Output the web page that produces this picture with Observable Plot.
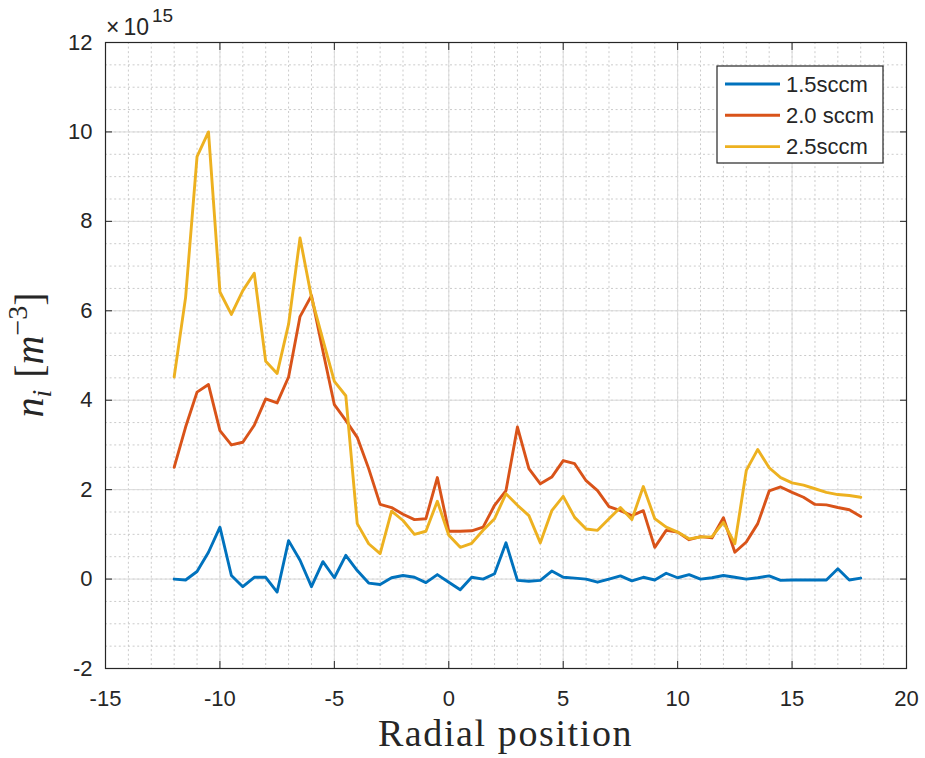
<!DOCTYPE html>
<html>
<head>
<meta charset="utf-8">
<script src="https://cdn.jsdelivr.net/npm/d3@7"></script>
<script src="https://cdn.jsdelivr.net/npm/@observablehq/plot@0.6"></script>
<style>
  body { margin: 0; background: #fff; }
  #chart { width: 925px; height: 758px; }
</style>
</head>
<body>
<div id="chart"></div>
<script>
// Radial positions of the probe (same for all three flow rates)
const positions = [
  -12, -11.5, -11, -10.5, -10, -9.5, -9, -8.5, -8, -7.5, -7, -6.5, -6, -5.5, -5, -4.5,
  -4, -3.5, -3, -2.5, -2, -1.5, -1, -0.5, 0, 0.5, 1, 1.5, 2, 2.5, 3, 3.5,
  4, 4.5, 5, 5.5, 6, 6.5, 7, 7.5, 8, 8.5, 9, 9.5, 10, 10.5, 11, 11.5,
  12, 12.5, 13, 13.5, 14, 14.5, 15, 15.5, 16, 16.5, 17, 17.5, 18
];

// Ion density n_i, in units of 1e15 m^-3
const flow15 = [
  0.00, -0.02, 0.17, 0.60, 1.16, 0.08, -0.17, 0.04, 0.04, -0.29, 0.86, 0.42, -0.17, 0.39, 0.03, 0.53,
  0.19, -0.09, -0.12, 0.03, 0.08, 0.04, -0.08, 0.10, -0.07, -0.24, 0.04, 0.00, 0.12, 0.81, -0.03, -0.05,
  -0.03, 0.18, 0.04, 0.02, 0.00, -0.07, 0.00, 0.07, -0.04, 0.04, -0.02, 0.13, 0.03, 0.10, 0.00, 0.03,
  0.08, 0.04, 0.00, 0.03, 0.07, -0.03, -0.02, -0.02, -0.02, -0.02, 0.23, -0.02, 0.02
];
const flow20 = [
  2.50, 3.40, 4.18, 4.35, 3.32, 3.00, 3.06, 3.44, 4.03, 3.94, 4.52, 5.87, 6.34, 5.10, 3.90, 3.55,
  3.17, 2.47, 1.67, 1.60, 1.45, 1.33, 1.35, 2.27, 1.07, 1.07, 1.08, 1.16, 1.65, 1.98, 3.40, 2.47,
  2.13, 2.28, 2.65, 2.58, 2.20, 1.98, 1.62, 1.53, 1.42, 1.53, 0.71, 1.09, 1.05, 0.88, 0.95, 0.92,
  1.37, 0.60, 0.83, 1.24, 1.97, 2.06, 1.94, 1.83, 1.67, 1.66, 1.60, 1.55, 1.40
];
const flow25 = [
  4.52, 6.30, 9.45, 10.00, 6.42, 5.92, 6.45, 6.84, 4.87, 4.60, 5.70, 7.63, 6.30, 5.35, 4.42, 4.10,
  1.24, 0.79, 0.57, 1.52, 1.31, 1.00, 1.07, 1.74, 0.98, 0.71, 0.80, 1.09, 1.35, 1.91, 1.65, 1.42,
  0.81, 1.53, 1.85, 1.38, 1.12, 1.09, 1.35, 1.60, 1.33, 2.07, 1.35, 1.16, 1.05, 0.90, 0.94, 0.95,
  1.27, 0.79, 2.43, 2.90, 2.49, 2.27, 2.15, 2.10, 2.02, 1.94, 1.89, 1.87, 1.83
];

const seriesNames = ["1.5sccm", "2.0 sccm", "2.5sccm"];
const seriesColors = ["#0072BD", "#D95319", "#EDB120"];
const seriesValues = [flow15, flow20, flow25];

const xTicks = [-15, -10, -5, 0, 5, 10, 15, 20];
const yTicks = [-2, 0, 2, 4, 6, 8, 10, 12];
const xMinor = d3.range(-15, 20.001, 1);
const yMinor = d3.range(-2, 12.001, 0.5);

// Long-format table for the line mark
const rows = seriesNames.flatMap((name, s) =>
  positions.map((x, i) => ({ x, y: seriesValues[s][i], series: name }))
);

const width = 925, height = 758;
const margin = { top: 42, right: 19, bottom: 90, left: 105 };
const axisColor = "#262626";
const lineWidth = 2.9;
const fmt = d => String(d);

const svg = Plot.plot({
  width, height,
  marginTop: margin.top, marginRight: margin.right,
  marginBottom: margin.bottom, marginLeft: margin.left,
  style: {
    fontFamily: "'Liberation Sans', Arial, Helvetica, sans-serif",
    fontSize: "22px",
    color: axisColor,
    background: "#fff",
    overflow: "visible"
  },
  x: { domain: [-15, 20] },
  y: { domain: [-2, 12] },
  color: { domain: seriesNames, range: seriesColors },
  marks: [
    // minor grid (dotted)
    Plot.ruleX(xMinor, { stroke: "#cbcbcb", strokeWidth: 1, strokeDasharray: "2,2.6" }),
    Plot.ruleY(yMinor, { stroke: "#cbcbcb", strokeWidth: 1, strokeDasharray: "2,2.6" }),
    // major grid
    Plot.ruleX(xTicks, { stroke: "#dadada", strokeWidth: 1 }),
    Plot.ruleY(yTicks, { stroke: "#dadada", strokeWidth: 1 }),
    // density profiles
    Plot.line(rows, {
      x: "x", y: "y", z: "series", stroke: "series",
      strokeWidth: lineWidth, strokeLinejoin: "round", strokeLinecap: "round"
    }),
    // box and inward ticks on all four sides
    Plot.frame({ stroke: axisColor, strokeWidth: 1.2 }),
    Plot.axisX({ ticks: xTicks, anchor: "bottom", tickSize: -7, fill: "none", label: null, stroke: axisColor }),
    Plot.axisX({ ticks: xTicks, anchor: "top", tickSize: -7, fill: "none", label: null, stroke: axisColor }),
    Plot.axisY({ ticks: yTicks, anchor: "left", tickSize: -7, fill: "none", label: null, stroke: axisColor }),
    Plot.axisY({ ticks: yTicks, anchor: "right", tickSize: -7, fill: "none", label: null, stroke: axisColor }),
    // tick labels
    Plot.axisX({ ticks: xTicks, anchor: "bottom", tickSize: 0, tickPadding: 22, tickFormat: fmt, label: null, fill: axisColor }),
    Plot.axisY({ ticks: yTicks, anchor: "left", tickSize: 0, tickPadding: 13, tickFormat: fmt, label: null, fill: axisColor })
  ]
});

document.getElementById("chart").appendChild(svg);

const root = d3.select(svg);
const plotLeft = margin.left, plotRight = width - margin.right;
const plotTop = margin.top, plotBottom = height - margin.bottom;

// exponent marker above the y axis
const expo = root.append("text")
  .attr("x", plotLeft + 1).attr("y", plotTop - 7)
  .attr("text-anchor", "start")
  .attr("fill", axisColor)
  .attr("font-family", "'Liberation Sans', Arial, sans-serif")
  .attr("font-size", 23)
  .style("font-size", "23px");
expo.append("tspan").text("×");
expo.append("tspan").attr("dx", 4).text("10");
expo.append("tspan").attr("dx", 3).attr("dy", -13)
  .attr("font-size", 19).style("font-size", "19px").text("15");

// x axis title
root.append("text")
  .attr("x", (plotLeft + plotRight) / 2).attr("y", plotBottom + 78)
  .attr("text-anchor", "middle")
  .attr("fill", axisColor)
  .style("font-family", "'Liberation Serif', 'Times New Roman', serif")
  .style("font-size", "38px")
  .style("letter-spacing", "1.6px")
  .text("Radial position");

// y axis title: n_i [m^-3]
const ylab = root.append("text")
  .attr("transform", `translate(43,${(plotTop + plotBottom) / 2}) rotate(-90)`)
  .attr("text-anchor", "middle")
  .attr("fill", axisColor)
  .style("font-family", "'Liberation Serif', 'Times New Roman', serif")
  .style("font-size", "40px");
ylab.append("tspan").style("font-style", "italic").text("n");
ylab.append("tspan").attr("dy", 8).style("font-style", "italic").style("font-size", "28px").text("i");
ylab.append("tspan").attr("dy", -8).attr("dx", 12).text("[");
ylab.append("tspan").style("font-style", "italic").text("m");
ylab.append("tspan").attr("dy", -16).style("font-size", "28px").text("−3");
ylab.append("tspan").attr("dy", 16).text("]");

// legend box in the upper right corner
const lg = { x: 717, y: 66, w: 166, h: 97, row: 31.3 };
const legend = root.append("g");
legend.append("rect")
  .attr("x", lg.x).attr("y", lg.y).attr("width", lg.w).attr("height", lg.h)
  .attr("fill", "#fff").attr("stroke", axisColor).attr("stroke-width", 1.2);
seriesNames.forEach((name, i) => {
  const cy = lg.y + 18 + i * lg.row;
  legend.append("line")
    .attr("x1", lg.x + 8).attr("x2", lg.x + 63)
    .attr("y1", cy).attr("y2", cy)
    .attr("stroke", seriesColors[i]).attr("stroke-width", lineWidth);
  legend.append("text")
    .attr("x", lg.x + 69).attr("y", cy)
    .attr("dy", "0.35em")
    .attr("text-anchor", "start")
    .attr("fill", axisColor)
    .style("font-family", "'Liberation Sans', Arial, sans-serif")
    .style("font-size", "22px")
    .text(name);
});
</script>
</body>
</html>
